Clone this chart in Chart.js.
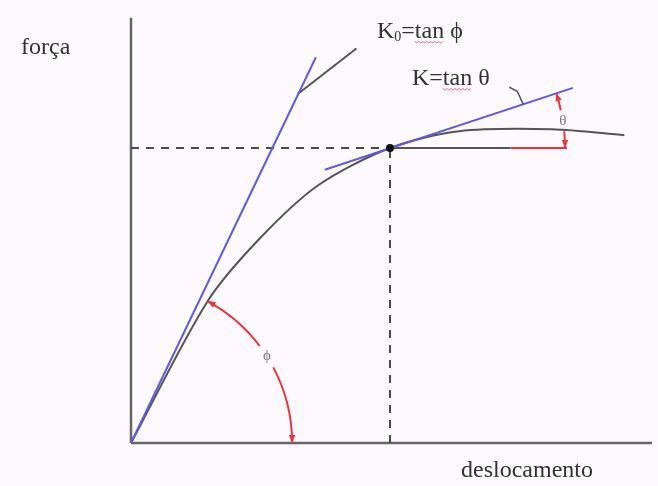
<!DOCTYPE html>
<html>
<head>
<meta charset="utf-8">
<script src="https://cdn.jsdelivr.net/npm/chart.js@4"></script>
<style>
  html, body { margin: 0; padding: 0; background: #fcf8fc; }
  #wrap { width: 658px; height: 486px; position: relative; }
</style>
</head>
<body>
<div id="wrap"><canvas id="diagram"></canvas></div>
<script>
// force / displacement curve
const curveX = [0, 77, 129, 189, 262, 332, 426, 499];
const curveY = [0, 143, 206, 261, 299, 316, 318, 312];

// short gray branch leaving the initial tangent
const branchX = [169, 228];
const branchY = [354, 400];

// initial stiffness K0 and tangent K at the yield point
const k0X = [0, 187];
const k0Y = [0, 391];
const kX = [196, 447];
const kY = [277, 360];

// yield point and its horizontal reference (gray part, then red part)
const yieldX = 262;
const yieldY = 299;
const refX = [262, 384, 441];

// axis extent
const xMax = 527;
const yMax = 443;
const yAxisTop = 431;

// angle arcs
const phiRadius = 163;
const thetaRadius = 177;

const GRAY = '#555555';
const BLUE = '#5c5ce0';
const RED = '#e8343c';

const pts = (xs, ys) => xs.map((v, i) => ({ x: v, y: ys[i] }));

function line(data, color, extra) {
    return Object.assign({
        data: data,
        showLine: true,
        borderColor: color,
        backgroundColor: color,
        borderWidth: 2,
        pointRadius: 0,
        clip: false
    }, extra || {});
}

function arrowHead(ctx, x, y, angle, color) {
    const len = 8, half = 3.2;
    ctx.save();
    ctx.translate(x, y);
    ctx.rotate(angle);
    ctx.fillStyle = color;
    ctx.beginPath();
    ctx.moveTo(0, 0);
    ctx.lineTo(-len, -half);
    ctx.lineTo(-len, half);
    ctx.closePath();
    ctx.fill();
    ctx.restore();
}

// arc around (cx, cy) from angle a0 up to a1 (radians, measured upwards from +x)
// with a gap for the label and arrows at both ends
function angleArc(ctx, cx, cy, r, a0, a1, gap0, gap1, label) {
    ctx.save();
    ctx.strokeStyle = RED;
    ctx.lineWidth = 2;
    ctx.beginPath();
    ctx.arc(cx, cy, r, -a0, -gap0, true);
    ctx.stroke();
    ctx.beginPath();
    ctx.arc(cx, cy, r, -gap1, -a1, true);
    ctx.stroke();
    arrowHead(ctx, cx + r * Math.cos(a0), cy - r * Math.sin(a0), Math.PI / 2 - a0, RED);
    arrowHead(ctx, cx + r * Math.cos(a1), cy - r * Math.sin(a1), -Math.PI / 2 - a1, RED);
    const am = (gap0 + gap1) / 2;
    ctx.fillStyle = '#777';
    ctx.font = '15px "Liberation Serif", serif';
    ctx.textAlign = 'center';
    ctx.textBaseline = 'middle';
    ctx.fillText(label, cx + r * Math.cos(am), cy - r * Math.sin(am));
    ctx.restore();
}

function squiggle(ctx, x0, x1, y) {
    ctx.save();
    ctx.strokeStyle = 'rgba(220,70,80,0.7)';
    ctx.lineWidth = 1;
    ctx.beginPath();
    ctx.moveTo(x0, y);
    for (let x = x0, k = 0; x <= x1; x += 2, k++) {
        ctx.lineTo(x, y + (k % 2 ? 1 : -0.5));
    }
    ctx.stroke();
    ctx.restore();
}

const annotations = {
    id: 'annotations',
    afterDatasetsDraw(chart) {
        const { ctx, scales: { x, y } } = chart;
        const px = v => x.getPixelForValue(v);
        const py = v => y.getPixelForValue(v);
        const unit = px(1) - px(0);

        // phi: from the x axis up to the curve point where K0 leaves it
        const phiEnd = Math.atan2(curveY[1], curveX[1]);
        angleArc(ctx, px(0), py(0), phiRadius * unit, 0, phiEnd,
            28 * Math.PI / 180, 37 * Math.PI / 180, 'ϕ');

        // theta: from the horizontal reference up to K
        const thetaEnd = Math.atan2(kY[1] - kY[0], kX[1] - kX[0]);
        angleArc(ctx, px(yieldX), py(yieldY), thetaRadius * unit, 0, thetaEnd,
            5.5 * Math.PI / 180, 12.5 * Math.PI / 180, 'θ');

        // leader from the K label to the tangent line
        const t = 0.8;
        const lx = px(kX[0] + t * (kX[1] - kX[0]));
        const ly = py(kY[0] + t * (kY[1] - kY[0]));
        ctx.save();
        ctx.strokeStyle = GRAY;
        ctx.lineWidth = 1.6;
        ctx.beginPath();
        ctx.moveTo(lx - 14, ly - 17);
        ctx.lineTo(lx - 6, ly - 13);
        ctx.lineTo(lx, ly);
        ctx.stroke();
        ctx.restore();

        // text
        ctx.save();
        ctx.fillStyle = '#333';
        ctx.textBaseline = 'alphabetic';
        ctx.textAlign = 'left';
        const big = '24px "Liberation Serif", "Times New Roman", serif';
        const small = '14px "Liberation Serif", "Times New Roman", serif';
        ctx.font = big;
        ctx.fillText('força', 21, 54);
        ctx.fillText('deslocamento', 461, 477);

        // K0 = tan phi
        let cx = 377;
        const b1 = 38;
        ctx.fillText('K', cx, b1);
        cx += ctx.measureText('K').width;
        ctx.font = small;
        ctx.fillText('0', cx, b1 + 3);
        cx += ctx.measureText('0').width;
        ctx.font = big;
        ctx.fillText('=', cx, b1);
        cx += ctx.measureText('=').width;
        let tw = ctx.measureText('tan').width;
        ctx.fillText('tan ϕ', cx, b1);
        squiggle(ctx, cx, cx + tw, b1 + 4);

        // K = tan theta
        cx = 412;
        const b2 = 85;
        ctx.fillText('K=', cx, b2);
        cx += ctx.measureText('K=').width;
        tw = ctx.measureText('tan').width;
        ctx.fillText('tan θ', cx, b2);
        squiggle(ctx, cx, cx + tw, b2 + 4);
        ctx.restore();
    }
};

const dashed = { borderDash: [8, 7], borderColor: '#4a4a4a', borderWidth: 2 };

new Chart(document.getElementById('diagram'), {
    type: 'scatter',
    data: {
        datasets: [
            line([{ x: yieldX, y: yieldY }], '#111', { showLine: false, pointRadius: 3 }),
            line(pts(kX, kY), BLUE),
            line(pts(k0X, k0Y), BLUE),
            line(pts(curveX, curveY), GRAY, { tension: 0.3 }),
            line(pts(branchX, branchY), GRAY),
            line([{ x: refX[1], y: yieldY }, { x: refX[2], y: yieldY }], RED),
            line([{ x: refX[0], y: yieldY }, { x: refX[1], y: yieldY }], GRAY),
            line([{ x: 0, y: yieldY }, { x: yieldX, y: yieldY }], GRAY, dashed),
            line([{ x: yieldX, y: 0 }, { x: yieldX, y: yieldY }], GRAY, dashed),
            line([{ x: 0, y: 0 }, { x: xMax, y: 0 }], '#666', { borderWidth: 2.5 }),
            line([{ x: 0, y: 0 }, { x: 0, y: yAxisTop }], '#666', { borderWidth: 2.5 })
        ]
    },
    options: {
        responsive: true,
        maintainAspectRatio: false,
        animation: false,
        layout: { padding: { left: 131, right: 0, top: 0, bottom: 43 } },
        plugins: { legend: { display: false }, tooltip: { enabled: false } },
        scales: {
            x: { type: 'linear', min: 0, max: xMax, display: false },
            y: { type: 'linear', min: 0, max: yMax, display: false }
        }
    },
    plugins: [annotations]
});
</script>
</body>
</html>
